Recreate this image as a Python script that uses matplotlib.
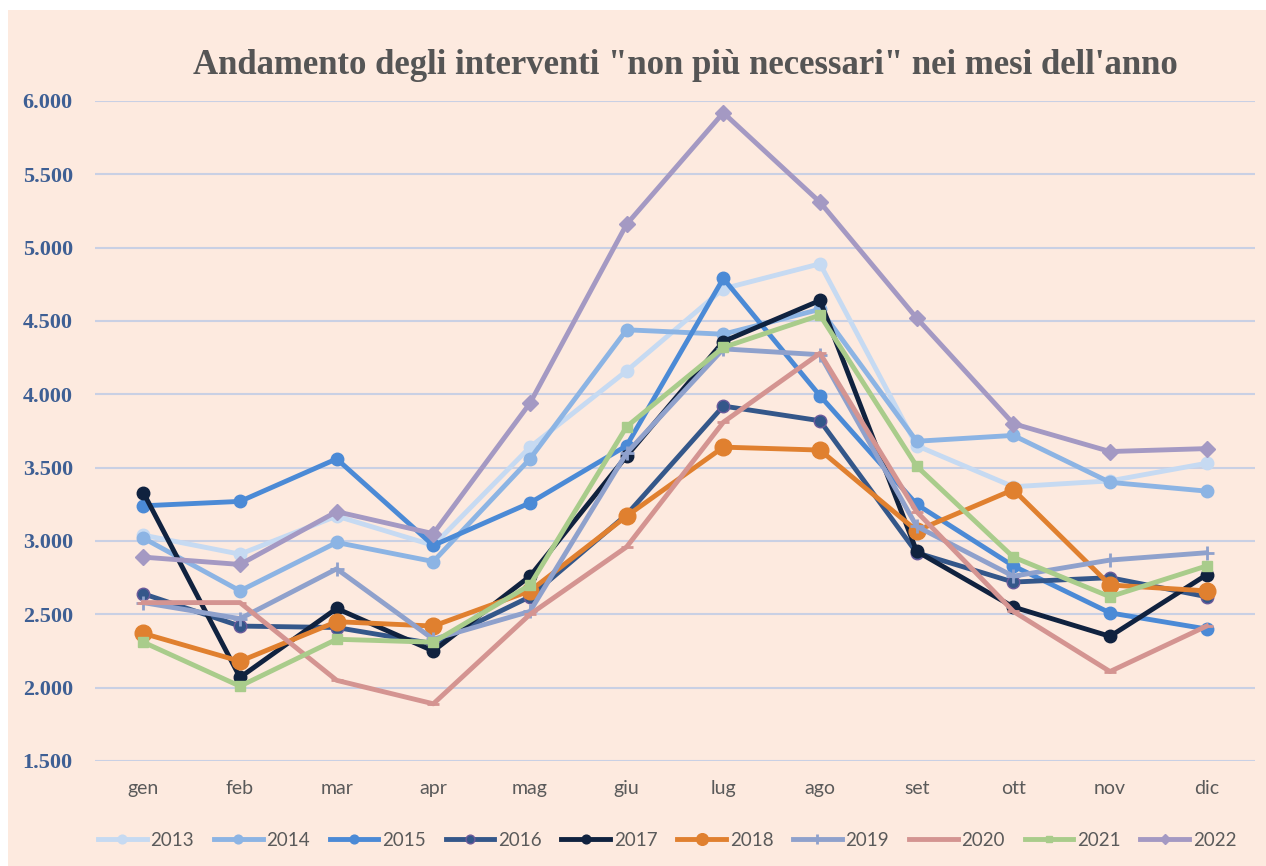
import matplotlib.pyplot as plt
from matplotlib.patches import Rectangle
from matplotlib.ticker import FuncFormatter

mesi = ["gen", "feb", "mar", "apr", "mag", "giu", "lug", "ago", "set", "ott", "nov", "dic"]

anni = ["2013", "2014", "2015", "2016", "2017", "2018", "2019", "2020", "2021", "2022"]

v2013 = [3040, 2910, 3170, 2970, 3640, 4160, 4720, 4890, 3650, 3370, 3410, 3530]
v2014 = [3020, 2660, 2990, 2860, 3560, 4440, 4410, 4580, 3680, 3720, 3400, 3340]
v2015 = [3240, 3270, 3560, 2970, 3260, 3650, 4790, 3990, 3250, 2830, 2510, 2400]
v2016 = [2640, 2420, 2410, 2300, 2620, 3180, 3920, 3820, 2920, 2720, 2750, 2620]
v2017 = [3330, 2070, 2540, 2250, 2760, 3580, 4360, 4640, 2930, 2550, 2350, 2770]
v2018 = [2370, 2180, 2450, 2420, 2660, 3170, 3640, 3620, 3070, 3350, 2700, 2660]
v2019 = [2580, 2470, 2810, 2330, 2520, 3600, 4310, 4270, 3100, 2760, 2870, 2920]
v2020 = [2580, 2580, 2050, 1890, 2500, 2960, 3810, 4280, 3200, 2520, 2110, 2420]
v2021 = [2310, 2010, 2330, 2310, 2700, 3780, 4320, 4540, 3510, 2890, 2620, 2830]
v2022 = [2890, 2840, 3200, 3050, 3940, 5160, 5920, 5310, 4520, 3800, 3610, 3630]

serie = [v2013, v2014, v2015, v2016, v2017, v2018, v2019, v2020, v2021, v2022]

colori = ["#c6daf2", "#8cb4e4", "#4b8ad6", "#34578a", "#10223f",
          "#e0802f", "#8fa1cc", "#d49491", "#a9cc8b", "#a499c3"]
marker = ["o", "o", "o", "o", "o", "o", "+", "_", "s", "D"]
msize = [9, 9, 9, 9, 9, 12, 10, 9, 7, 8]

bg = "#fdeadf"

fig = plt.figure(figsize=(12.66, 8.66), dpi=100, facecolor="white")
fig.patches.append(Rectangle((8 / 1266, 0), 1, 1 - 10 / 866, transform=fig.transFigure,
                             facecolor=bg, edgecolor="none", zorder=-10))

ax = fig.add_axes([95 / 1266, 1 - 761 / 866, (1255 - 95) / 1266, (761 - 101) / 866])
ax.set_facecolor(bg)
ax.patch.set_alpha(0)

x = list(range(len(mesi)))
for anno, vals, c, m, s in zip(anni, serie, colori, marker, msize):
    mec = c
    if anno == "2016":
        mec = "#6a5a9a"
    ax.plot(x, vals, color=c, linewidth=3.5, marker=m, markersize=s,
            markerfacecolor=c, markeredgecolor=mec, markeredgewidth=2 if m in "+_" else 1,
            label=anno)

ax.set_xlim(-0.5, 11.5)
ax.set_ylim(1500, 6000)
ax.set_yticks(range(1500, 6001, 500))
ax.yaxis.set_major_formatter(FuncFormatter(lambda v, p: f"{v:,.0f}".replace(",", ".")))
ax.set_xticks(x)
ax.set_xticklabels(mesi)
ax.grid(axis="y", color="#c9d0e4", linewidth=1.5)
ax.set_axisbelow(True)
for sp in ax.spines.values():
    sp.set_visible(False)
ax.tick_params(length=0)
ax.tick_params(axis="x", pad=14, labelcolor="#5a5a5a")
for t in ax.get_xticklabels():
    t.set_fontfamily("Lato")
    t.set_fontsize(14)
ax.tick_params(axis="y", pad=16)
for t in ax.get_yticklabels():
    t.set_fontfamily("Liberation Serif")
    t.set_fontweight("bold")
    t.set_fontsize(16)
    t.set_color("#3e5f94")

fig.text(0.541, 1 - 65 / 866, "Andamento degli interventi \"non più necessari\" nei mesi dell'anno",
         ha="center", va="center", fontsize=25, fontweight="bold",
         family="Liberation Serif", color="#555555")

leg = fig.legend(loc="center", bbox_to_anchor=(0.527, 1 - 840 / 866), ncol=10,
                 frameon=False, prop={"family": "Lato", "size": 13.5},
                 handlelength=2.6, columnspacing=1.05,
                 handletextpad=0.2, markerscale=0.7)
for t in leg.get_texts():
    t.set_color("#5a5a5a")

fig.savefig("out.png", dpi=100, facecolor=fig.get_facecolor())
